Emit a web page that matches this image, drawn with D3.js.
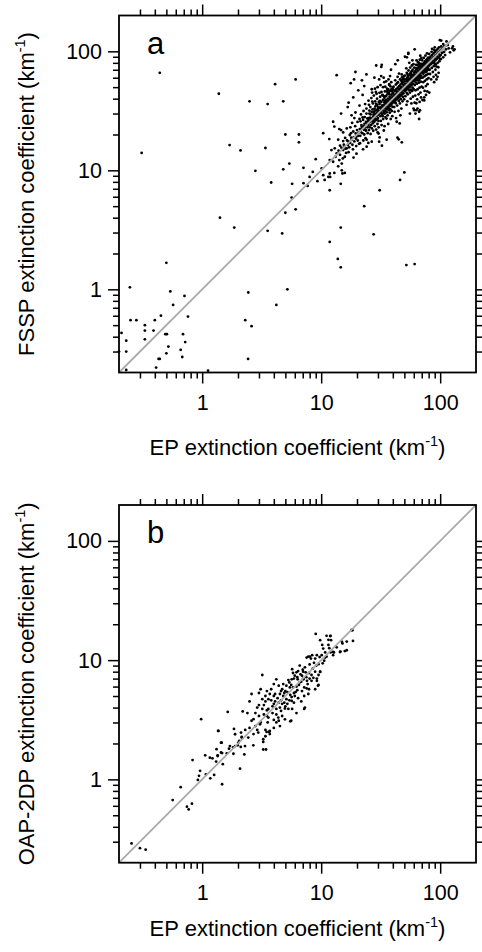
<!DOCTYPE html>
<html><head><meta charset="utf-8">
<script src="https://cdn.jsdelivr.net/npm/d3@7"></script>
<style>
html,body{margin:0;padding:0;background:#fff;}
svg{display:block;}
text{font-family:"Liberation Sans",Arial,Helvetica,sans-serif;}
</style>
</head><body>
<svg id="chart" width="482" height="952"></svg>
<script>
// ---- data ----
const axisDomain = [0.2, 200];
const majorTicks = [1, 10, 100];
const tickLabels = ["1", "10", "100"];
const minorTicks = [0.3,0.4,0.5,0.6,0.7,0.8,0.9,2,3,4,5,6,7,8,9,20,30,40,50,60,70,80,90];
const xTitleText = "EP extinction coefficient (km";
const yTitleTextA = "FSSP extinction coefficient (km";
const yTitleTextB = "OAP-2DP extinction coefficient (km";
const unitExponent = "-1";
const panelLetters = ["a", "b"];

// panel a: [EP, FSSP]
const outliersA = [
[0.44,66],[0.31,14],[1.38,44],[2.5,38],[3.55,36],[4.1,53],[4.8,38],[6.1,58],[1.7,16.3],[2.1,14.7],[3.4,15.4],[5.0,20],[6.5,20],[6.5,17.2],[2.8,9.9],[4.8,10.2],[5.4,11.4],[3.8,7.9],[5.7,7.7],[7.1,10.5],[7.1,7.8],[7.7,7.4],[8.5,9.7],[9.3,8.1],[9.0,12.4],[10.4,20.5],[10.7,8.3],[10.1,10.4],[11.9,8.8],[11.8,6.8],[1.41,4.0],[1.86,3.3],[3.55,3.1],[4.7,2.95],[5.0,4.4],[5.65,5.9],[6.1,4.7],[31,6.8],[46,8.3],[50,9.6],[23,5.0],[14.6,3.3],[11.8,2.5],[27.6,2.9],[13.8,1.8],[14.6,1.53],[52,1.6],[61,1.63],[5.2,1.0],[2.44,0.94],[4.2,0.74],[2.3,0.55],[2.6,0.49],[2.43,0.26],[1.12,0.207],
[0.5,1.67],[0.247,1.04],[0.54,0.96],[0.71,0.88],[0.57,0.74],[0.76,0.59],[0.45,0.6],[0.25,0.55],[0.28,0.55],[0.40,0.55],[0.33,0.50],[0.21,0.43],[0.33,0.45],[0.39,0.45],[0.49,0.42],[0.505,0.42],[0.69,0.42],[0.23,0.37],[0.33,0.38],[0.72,0.36],[0.52,0.33],[0.20,0.30],[0.23,0.30],[0.66,0.31],[0.50,0.29],[0.68,0.27],[0.43,0.26],[0.44,0.26],[0.23,0.21],[0.41,0.22],
[14.6,7.7],[12.9,9.5],[8.0,8.8],[10.4,9.1],[11.5,8.8],[11.8,9.4],[15.1,9.4],[15.8,9.5],[14.9,10.0],[11.7,18.3],[12.6,25.6],[12.9,23.3],[14.2,22.2],[14.7,30],[13.5,63],[11.8,12.2],[12.6,11.8],[44,84],[42,78],[32.3,77],[37.3,53],[31.9,62],[33.9,55],[29.8,50],[36.1,47],[32.7,42.7],[28.8,45.5],[63,36.6],[43.8,18.8],[44.8,18.2],[47.6,17.2],[30.3,20.4],[31,18.9],[33.6,21.6],[32.4,16.1],[35.5,18.1],[26.6,17.4],[30.7,17.4],[24.1,18.1],[21.2,16.9],[22.5,15],[17.3,17.1],[24.1,15.8]
];
const coreA = [
[14.0,14.6],[14.8,15.5],[15.5,16.4],[16.0,15.2],[15.2,12.6],[13.2,13.0],[16.2,14.0],[16.5,17.8],[15.9,18.7],[16.8,16.3],[14.7,21.8],[15.3,20.8],[13.9,18.1],[15.3,17.6],[14.4,16.1],[13.0,15.3],[12.2,14.8],[13.5,13.9],[14.4,13.5],[15.3,14.8],[15.8,13.0],[14.2,12.2],[14.9,11.4],[13.9,10.8],
[17,37],[16.7,34],[17.4,19.8],[18.6,21.2],[19.8,19.2],[16.4,22.5],[17.2,15.6],[16.4,15.3],[18.0,18.0],[17.5,17.0],[18.3,16.4],[19.0,17.5],[19.5,20.4],[18.8,19.0],[17.8,20.5],[20.0,21.8],[19.3,23.5],[18.2,25.0],[17.6,23.0],[20.3,17.8],[19.7,16.0],[18.5,15.0],[17.0,14.2],[20.5,19.5],[19.0,27.5],[18.0,29.0],[20.2,25.5],[19.8,13.8],[18.7,12.8],[20.8,16.7],[19.4,30.6],[18.6,41],[20.5,47],[17.7,54],[18.9,58],[19.4,67],
[21,27],[24,30],[22.3,43],[22,57],[23,51],[24,64],[21.5,21.0],[22.0,22.5],[22.8,23.5],[23.5,22.0],[24.2,24.8],[24.8,26.0],[21.8,24.0],[22.5,26.5],[23.2,28.0],[23.8,25.5],[24.5,23.0],[21.3,19.5],[22.2,20.5],[23.0,20.0],[23.8,21.5],[24.6,20.5],[25.0,24.0],[25.3,27.5],[24.0,33.0],[22.7,31.5],[21.6,29.5],[23.4,36.0],[25.0,38.5],[21.0,35.0],[23.6,18.6],[24.9,17.0],[22.6,17.8],[25.2,21.8],[21.9,23.2],[23.1,24.6],[24.4,27.3],[25.4,30.0],[22.3,27.8],[21.4,25.8],
[26.6,48],[28,60],[30.7,58],[29,76],[25.8,25.5],[26.2,27.0],[26.8,26.0],[27.3,28.0],[27.8,27.2],[28.3,29.5],[28.8,28.5],[29.3,30.5],[29.8,29.0],[30.2,31.5],[26.0,29.5],[26.5,31.0],[27.0,32.5],[27.6,30.5],[28.1,33.0],[28.6,34.5],[29.1,32.0],[29.6,35.5],[30.1,34.0],[25.6,23.0],[26.3,24.0],[27.1,24.8],[27.9,25.5],[28.7,26.3],[29.4,26.8],[30.0,27.5],[26.7,22.5],[28.2,23.5],[29.7,24.5],[27.4,21.5],[29.0,22.0],[30.4,23.0],[25.9,34.0],[27.2,36.5],[28.4,38.0],[29.5,40.0],[26.4,40.5],[27.7,42.5],[29.2,44.0],[30.5,37.5],[28.9,36.2],[26.9,37.8],[25.7,27.7],[27.5,29.2],[29.9,32.7],[30.6,29.8],[28.0,31.3],[26.1,26.2],[28.5,27.0],[30.3,26.0],[27.0,27.5],[29.0,29.4],[30.8,33.3],[25.4,31.8],[25.2,35.5],[26.8,45.0],[28.3,48.5],[29.8,20.8],[26.0,20.2],
[32,74],[38.6,70],[31.2,31.0],[31.8,33.0],[32.3,32.0],[32.8,34.5],[33.3,33.5],[33.8,35.5],[34.3,34.5],[34.8,36.5],[35.3,35.5],[35.8,37.5],[36.3,36.5],[36.8,38.5],[37.3,37.5],[37.8,39.5],[38.3,38.5],[38.8,40.5],[39.3,39.5],[39.8,41.5],[31.5,28.5],[32.5,29.5],[33.5,30.5],[34.5,31.5],[35.5,32.5],[36.5,33.5],[37.5,34.5],[38.5,35.5],[39.5,36.5],[31.0,36.0],[32.0,37.5],[33.0,39.0],[34.0,40.5],[35.0,42.0],[36.0,43.5],[37.0,45.0],[38.0,46.5],[39.0,48.0],[40.0,49.5],[31.7,26.0],[33.2,27.0],[34.7,28.0],[36.2,29.0],[37.7,30.5],[39.2,31.5],[31.3,41.5],[32.8,43.0],[34.3,46.0],[35.8,48.5],[37.3,52.0],[38.8,55.0],[33.1,50.0],[35.2,56.0],[36.6,24.5],[38.4,27.0],[34.1,23.5],[32.2,24.0],[39.6,28.5],[31.4,33.8],[32.6,35.2],[33.9,37.2],[35.1,38.8],[36.4,40.1],[37.6,41.6],[38.9,43.2],[39.9,44.6],[31.9,30.4],[33.4,31.8],[34.9,33.1],[36.1,34.3],[37.4,35.6],[38.6,36.8],[39.8,38.2],[32.9,28.6],[35.6,30.7],[38.1,32.6],[34.4,38.4],[36.9,33.0],[37.2,43.7],[39.4,46.3],[35.4,27.2],[32.1,45.5],[34.6,50.5],[36.8,58.0],[33.5,60.0],[37.9,62.0],[31.5,52.0],[30.9,44.8],[39.7,34.2],[31.1,38.4],[35.9,45.7],[38.2,50.8],[40.0,40.0],[33.7,42.0],[36.7,47.8],[34.2,30.0],[37.1,32.0],
[21.1,22.2],[23.3,23.0],[25.5,25.3],[27.7,27.9],[30.0,30.4],[32.4,33.0],[34.9,35.1],[37.6,37.0],[40.3,40.9],[43.2,42.3],[46.3,46.5],[49.6,49.8],[20.6,20.7],[22.9,21.9],[25.0,26.3],[27.3,26.5],[29.5,30.0],[31.8,31.7],[34.2,33.4],[36.7,38.1],[39.4,39.0],[42.2,42.6],[45.1,45.0],[48.2,47.3],[17.9,18.8],[16.9,17.5],[19.6,18.5],[15.7,15.6],
[47.5,64],[40.5,41.0],[41.3,42.5],[42.1,41.5],[42.9,44.0],[43.7,43.0],[44.5,45.5],[45.3,44.5],[46.1,47.0],[46.9,46.0],[47.7,48.5],[48.5,47.5],[49.3,50.0],[40.8,37.5],[42.0,38.5],[43.2,39.5],[44.4,40.5],[45.6,41.5],[46.8,42.5],[48.0,43.5],[49.2,44.5],[40.3,45.0],[41.6,46.5],[42.8,48.0],[44.0,49.5],[45.2,51.0],[46.4,52.5],[47.6,54.0],[48.8,55.5],[41.1,34.0],[43.5,35.0],[45.9,36.5],[48.2,38.0],[49.8,39.5],[40.6,50.5],[42.4,52.5],[44.2,55.0],[46.0,58.0],[47.8,60.5],[49.6,62.0],[41.9,57.0],[43.9,61.0],[45.1,65.0],[41.4,31.0],[44.6,31.5],[47.2,33.0],[42.6,27.5],[46.3,29.0],[40.9,43.3],[43.0,46.2],[45.0,48.2],[47.0,50.3],[49.0,52.4],[41.8,39.9],[43.6,41.6],[45.5,43.4],[47.3,45.2],[49.1,46.9],[42.3,36.6],[44.9,38.3],[48.6,41.3],[40.2,38.9],[46.6,39.6],[48.4,58.0],[44.7,42.8],[42.7,43.3],[46.5,49.0],[50.0,49.0],[43.3,53.8],[47.1,56.6],[40.4,47.6],[49.5,58.8],[45.7,24.8],[43.1,25.6],
[54,97],[54,95],[52.5,89],[60.5,32],[59.7,33],[50.5,51.5],[51.3,50.5],[52.1,53.0],[52.9,52.0],[53.7,55.0],[54.5,54.0],[55.3,57.0],[56.1,56.0],[56.9,59.0],[57.7,58.0],[58.5,61.0],[59.3,60.0],[50.8,46.5],[52.0,47.5],[53.2,48.5],[54.4,49.5],[55.6,50.5],[56.8,51.5],[58.0,52.5],[59.2,53.5],[50.3,56.0],[51.6,58.0],[52.8,60.0],[54.0,62.0],[55.2,64.0],[56.4,66.0],[57.6,68.0],[58.8,70.0],[51.0,42.0],[53.4,43.5],[55.8,45.0],[58.2,46.5],[59.9,48.0],[50.6,62.5],[52.4,66.0],[54.2,69.0],[56.0,73.0],[57.8,76.0],[59.6,78.0],[51.9,72.0],[55.0,80.0],[53.0,38.0],[56.5,40.0],[59.0,41.5],[52.2,35.5],[57.3,36.5],[50.9,53.5],[53.1,55.9],[55.1,58.2],[57.1,60.6],[59.1,63.0],[51.8,48.9],[53.6,50.8],[55.5,52.7],[57.3,54.6],[59.1,56.5],[52.3,44.8],[54.9,46.9],[58.6,49.6],[50.2,48.7],[56.6,47.6],[54.7,58.8],[52.7,57.3],[56.5,62.8],[60.0,59.0],[53.3,63.8],[57.1,64.6],[58.4,84.0],[55.7,30.0],[50.6,90],
[61,104],[64.5,33],[62,30],[63,32],[67.6,32],[66.5,31],[66.5,27],[60.5,61.5],[61.5,60.5],[62.5,63.0],[63.5,62.0],[64.5,65.0],[65.5,64.0],[66.5,67.0],[67.5,66.0],[68.5,69.0],[69.5,68.0],[60.8,56.5],[62.2,57.5],[63.6,58.5],[65.0,59.5],[66.4,60.5],[67.8,61.5],[69.2,62.5],[60.4,66.5],[61.9,68.5],[63.4,70.5],[64.9,72.5],[66.4,74.5],[67.9,76.5],[69.4,78.5],[61.2,52.0],[63.8,53.5],[66.2,54.5],[68.7,55.5],[60.6,73.0],[62.8,77.0],[65.2,81.0],[67.4,85.0],[69.6,88.0],[62.1,47.0],[64.6,48.0],[67.1,49.5],[69.8,50.5],[61.7,42.5],[65.8,43.5],[68.3,45.0],[60.9,63.9],[63.1,66.3],[65.1,68.6],[67.1,71.0],[69.1,73.4],[61.8,58.9],[63.6,60.8],[65.5,62.7],[67.3,64.6],[69.1,66.5],[62.3,54.8],[64.9,56.9],[68.6,59.6],[60.2,58.7],[66.6,57.6],[64.7,76.8],[62.7,72.3],[66.5,79.8],[68.0,92.0],[63.3,83.8],[67.2,37.6],[64.0,39.5],[69.0,41.0],[61.0,37.0],
[71,39],[73.5,41],[73.5,38.7],[76,43],[70.5,71.5],[71.5,70.5],[72.5,73.0],[73.5,72.0],[74.5,75.0],[75.5,74.0],[76.5,77.0],[77.5,76.0],[78.5,79.0],[79.5,78.0],[70.8,66.5],[72.2,67.5],[73.6,68.5],[75.0,69.5],[76.4,70.5],[77.8,71.5],[79.2,72.5],[70.4,76.5],[71.9,78.5],[73.4,80.5],[74.9,82.5],[76.4,84.5],[77.9,86.5],[79.4,88.5],[71.2,60.0],[73.8,61.5],[76.2,63.0],[78.7,64.5],[70.6,84.0],[72.8,88.0],[75.2,92.0],[77.4,96.0],[72.1,55.0],[74.6,56.5],[77.1,58.0],[79.8,59.5],[71.7,49.5],[75.8,51.0],[78.3,53.0],[70.9,73.9],[73.1,76.3],[75.1,78.6],[77.1,81.0],[79.1,83.4],[71.8,68.9],[73.6,70.8],[75.5,72.7],[77.3,74.6],[79.1,76.5],[72.3,64.8],[74.9,66.9],[78.6,69.6],[70.2,68.7],[76.6,67.6],[78.0,46.0],[74.0,46.5],
[81,45],[89,55],[93,58],[95,61],[80.5,81.5],[82.5,83.0],[84.5,85.5],[86.5,87.0],[88.5,89.5],[90.5,91.0],[92.5,93.5],[94.5,95.0],[96.5,97.5],[98.5,99.0],[81.0,76.0],[83.5,78.0],[86.0,80.0],[88.5,82.0],[91.0,84.0],[93.5,86.0],[96.0,88.5],[98.5,90.5],[80.3,87.0],[82.8,90.0],[85.3,93.0],[87.8,96.0],[90.3,99.0],[92.8,102.0],[95.3,105.0],[97.8,108.0],[81.6,70.0],[85.0,72.5],[88.4,75.0],[91.8,77.5],[95.2,80.0],[98.6,82.5],[82.2,64.5],[86.8,67.0],[91.2,70.0],[96.4,73.5],[84.0,58.0],[88.0,61.0],[80.8,95.0],[84.7,99.0],[88.7,103.0],[83.2,84.6],[87.2,88.3],[91.7,92.2],[95.7,96.5],[99.7,100.5],[82.0,79.5],[86.3,83.1],[90.0,86.5],[94.1,90.4],[97.9,94.3],[89.6,79.0],[93.0,74.5],[99.4,86.0],[97.0,66.0],[92.0,63.5],[85.5,105.0],[90.0,108.0],
[99.5,124],[102,123],[113,121],[126,106],[130,102],[121,98],[128,110],[132,104],[100.5,101.5],[103,104],[105.5,106.5],[108,110],[110.5,111],[104,97],[108,99],[112,104],[101,93],[106,89],[102,110],[106,115],[116,113],[118,106],[101.5,86.0],[110,93]
];
const pointsA = outliersA.concat(coreA);

// panel b: [EP, OAP-2DP]
const pointsB = [
[0.255,0.29],[0.30,0.265],[0.335,0.257],[0.565,0.67],[0.66,0.86],[0.745,0.59],[0.77,0.56],[0.82,0.625],[0.83,1.45],[0.92,0.99],[0.94,1.07],[0.96,1.18],[0.98,3.2],[1.06,1.59],[1.075,1.10],[1.17,1.02],[1.26,1.09],[1.22,1.50],[1.31,1.41],[1.35,1.59],[1.47,1.66],[1.49,1.34],[1.47,0.91],[1.37,2.55],[1.44,2.03],[1.61,1.65],[1.68,1.81],[1.83,1.64],[1.89,1.90],[1.85,2.65],[1.99,1.93],[2.05,2.10],[2.12,2.47],[2.15,2.27],[2.11,1.87],[2.08,1.23],[1.64,3.68],[2.19,3.71],[1.16,1.52],
[9.0,16.6],[11.1,16.0],[12.0,16.0],[9.8,14.7],[11.5,14.8],[10.2,13.4],[18.3,17.8],[18.5,14.5],[15.8,11.9],[14.5,11.8],[10.8,11.6],[12.8,11.6],[11.1,10.7],[10.6,9.9],[10.3,9.4],[9.2,11.0],[8.4,11.0],[7.8,10.7],[8.2,10.3],[7.3,8.7],[6.6,9.0],[6.2,7.9],[6.4,8.1],[6.9,7.4],[7.9,7.8],[8.9,8.0],[9.8,8.0],[8.3,6.7],[9.2,6.7],[7.9,5.7],[8.9,5.7],[9.4,6.1],[7.2,5.9],[7.7,6.3],[6.0,7.4],[5.7,8.4],[5.65,6.9],[5.4,6.5],[5.1,6.1],[5.0,5.5],[4.7,5.7],[4.4,6.1],[4.2,6.9],[4.0,6.3],[3.8,5.7],[3.7,5.2],[4.1,5.2],[4.5,5.2],[4.8,5.0],[5.1,4.7],[6.0,5.0],[5.8,5.9],[6.3,5.6],[6.6,6.5],[7.2,5.0],[5.7,3.9],[5.3,3.9],[4.7,4.3],[4.4,4.4],[4.1,4.5],[3.6,4.7],[3.4,4.5],[3.2,4.7],[3.4,5.0],[3.0,5.3],[3.1,5.7],[2.6,5.2],[2.5,4.5],[2.9,4.0],[3.2,3.9],[3.6,3.9],[3.9,4.1],[4.2,3.9],[4.6,3.75],[3.3,3.5],[3.5,3.4],[3.0,3.4],[2.7,3.2],[2.6,3.1],[2.4,3.6],[2.8,2.8],[3.06,2.9],[3.4,2.6],[3.7,2.55],[3.7,2.4],[2.96,2.47],[3.4,2.3],[3.26,2.17],[3.55,3.0],[4.0,3.15],[4.36,3.3],[4.96,3.19],[5.6,3.1],[4.5,2.8],[4.0,2.7],[3.2,7.5],[3.26,2.06],[3.26,1.78],[3.44,1.78],[2.69,1.93],[3.66,2.5],[3.48,2.5],[2.44,2.24],[2.26,1.62],[2.29,1.9],[1.36,2.55],[1.46,2.03],[1.32,1.79],[1.35,1.57],[1.44,1.68],[1.89,2.39],[2.15,2.24],[2.01,2.03],[1.82,1.85],[1.71,1.9],[2.7,2.4],[7.3,4.0],[5.65,4.55],[4.2,3.0],[4.8,6.3],[5.45,5.9],[6.35,6.9],[7.06,7.0],[9.5,9.25],[12.0,11.6],[14.9,14.3],[16.4,14.3],[18.0,17.9],[16.4,12.1],[14.4,11.7],[15.1,13.8],[11.9,15.9],[12.1,14.7],[11.5,13.4],[10.4,12.5],[10.1,11.0],[8.9,10.3],[8.05,10.7],[7.55,10.5],[12.6,11.7],[12.6,11.0],[9.8,7.97],[9.5,6.2],[9.2,7.0],[9.5,7.5],[8.3,7.5],[7.05,8.0],[7.55,5.8],[7.2,3.9],[5.65,4.9],[5.5,3.07],[4.96,3.93],
[4.3,4.8],[4.6,4.6],[4.9,5.3],[5.2,5.4],[5.5,5.1],[5.9,5.3],[6.2,6.0],[6.5,6.2],[6.8,6.6],[7.1,6.9],[7.5,7.2],[8.0,7.0],[8.5,8.5],[5.3,6.8],[5.9,7.0],[6.7,7.6],[7.4,7.9],[4.5,4.0],[4.9,4.4],[5.2,4.3],[5.9,4.4],[6.4,4.8],[3.9,3.6],[4.2,3.5],[4.7,3.4],[3.6,3.3],[3.8,4.6],[4.0,5.0],[3.5,5.5],[3.3,4.2],[3.0,4.2],[2.8,3.6],[3.1,3.0],[5.0,4.1],[5.4,4.6],[6.1,5.4],[6.9,5.5],[7.6,6.7],[8.6,7.1],[9.1,9.0],[8.0,9.2],[7.0,8.3],[6.3,7.2],[5.6,6.2],[4.6,5.5],[4.0,4.3],[3.5,3.8],[2.9,2.6],[2.5,2.7],[2.3,2.6],[10.8,10.5],[11.7,12.6],[9.7,10.6],[8.7,9.5],[13.5,12.8],[6.8,4.5],[7.8,5.2],[6.2,3.6],[4.4,3.1],[5.8,7.8]
];

// ---- drawing ----
const svg = d3.select("#chart");
const FONT = '"Liberation Sans",Arial,Helvetica,sans-serif';
const plotLeft = 119, plotRight = 476;
const panels = [
  {letter: panelLetters[0], data: pointsA, yTitle: yTitleTextA, top: 15.5, bottom: 372.5, xTitleY: 455},
  {letter: panelLetters[1], data: pointsB, yTitle: yTitleTextB, top: 505, bottom: 862.7, xTitleY: 936}
];

function styleAxis(sel, labelSize) {
  sel.select(".domain").remove();
  sel.selectAll(".tick line").attr("stroke", "#000").attr("stroke-width", 1.5);
  sel.attr("font-family", FONT).attr("font-size", labelSize);
  sel.selectAll(".tick text").attr("fill", "#000");
}

panels.forEach(p => {
  const x = d3.scaleLog().domain(axisDomain).range([plotLeft, plotRight]);
  const y = d3.scaleLog().domain(axisDomain).range([p.bottom, p.top]);
  const g = svg.append("g");
  const fmt = d => tickLabels[majorTicks.indexOf(d)];

  // points
  g.append("g").selectAll("circle").data(p.data).join("circle")
    .attr("cx", d => x(d[0])).attr("cy", d => y(d[1]))
    .attr("r", 1.4).attr("fill", "#000");

  // 1:1 line
  g.append("line")
    .attr("x1", x(axisDomain[0])).attr("y1", y(axisDomain[0]))
    .attr("x2", x(axisDomain[1])).attr("y2", y(axisDomain[1]))
    .attr("stroke", "#aaaaaa").attr("stroke-width", 1.8);

  // axes (ticks outward on all four sides)
  g.append("g").attr("transform", `translate(0,${p.bottom})`)
    .call(d3.axisBottom(x).tickValues(majorTicks).tickSize(11).tickPadding(11).tickFormat(fmt))
    .call(s => styleAxis(s, 21.5));
  g.append("g").attr("transform", `translate(0,${p.bottom})`)
    .call(d3.axisBottom(x).tickValues(minorTicks).tickSize(6).tickFormat(""))
    .call(s => styleAxis(s, 21.5));
  g.append("g").attr("transform", `translate(0,${p.top})`)
    .call(d3.axisTop(x).tickValues(majorTicks).tickSize(11).tickFormat(""))
    .call(s => styleAxis(s, 21.5));
  g.append("g").attr("transform", `translate(0,${p.top})`)
    .call(d3.axisTop(x).tickValues(minorTicks).tickSize(6).tickFormat(""))
    .call(s => styleAxis(s, 21.5));
  g.append("g").attr("transform", `translate(${plotLeft},0)`)
    .call(d3.axisLeft(y).tickValues(majorTicks).tickSize(11).tickPadding(6).tickFormat(fmt))
    .call(s => styleAxis(s, 21.5));
  g.append("g").attr("transform", `translate(${plotLeft},0)`)
    .call(d3.axisLeft(y).tickValues(minorTicks).tickSize(6).tickFormat(""))
    .call(s => styleAxis(s, 21.5));
  g.append("g").attr("transform", `translate(${plotRight},0)`)
    .call(d3.axisRight(y).tickValues(majorTicks).tickSize(11).tickFormat(""))
    .call(s => styleAxis(s, 21.5));
  g.append("g").attr("transform", `translate(${plotRight},0)`)
    .call(d3.axisRight(y).tickValues(minorTicks).tickSize(6).tickFormat(""))
    .call(s => styleAxis(s, 21.5));

  // frame
  g.append("rect").attr("x", plotLeft).attr("y", p.top)
    .attr("width", plotRight - plotLeft).attr("height", p.bottom - p.top)
    .attr("fill", "none").attr("stroke", "#000").attr("stroke-width", 1.8);

  // panel letter
  g.append("text").attr("x", 147).attr("y", p.top + 38)
    .attr("font-family", FONT).attr("font-size", 31).attr("fill", "#000").text(p.letter);

  // x title
  const xt = g.append("text").attr("x", (plotLeft + plotRight) / 2).attr("y", p.xTitleY)
    .attr("text-anchor", "middle").attr("font-family", FONT).attr("font-size", 22).attr("fill", "#000");
  xt.append("tspan").text(xTitleText);
  xt.append("tspan").attr("font-size", 14.5).attr("dy", -9.5).text(unitExponent);
  xt.append("tspan").attr("dy", 9.5).text(")");

  // y title
  const yt = g.append("text")
    .attr("transform", `translate(34,${(p.top + p.bottom) / 2}) rotate(-90)`)
    .attr("text-anchor", "middle").attr("font-family", FONT).attr("font-size", 22).attr("fill", "#000");
  yt.append("tspan").text(p.yTitle);
  yt.append("tspan").attr("font-size", 14.5).attr("dy", -9.5).text(unitExponent);
  yt.append("tspan").attr("dy", 9.5).text(")");
});
</script>
</body></html>
